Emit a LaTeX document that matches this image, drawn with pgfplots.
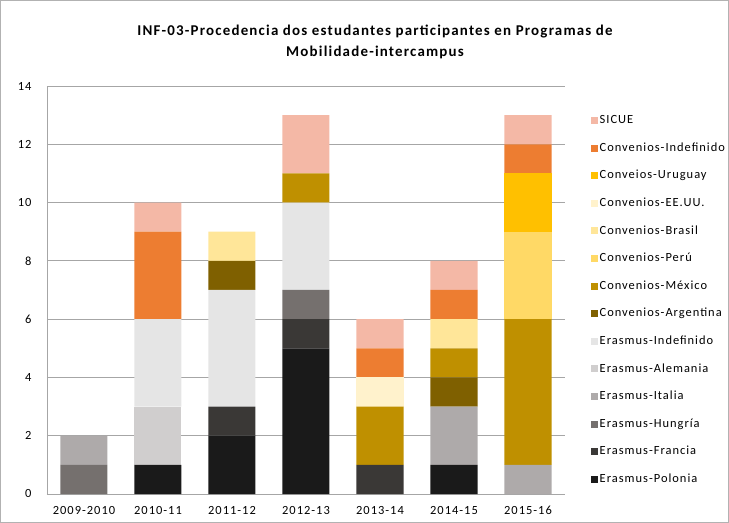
\documentclass[border=0pt]{standalone}
\usepackage{pgfplots}
\pgfplotsset{compat=1.18}
\usepackage{fontspec}
\setmainfont{Carlito}[LetterSpace=8]

\definecolor{cPol}{HTML}{1A1A1A}
\definecolor{cFra}{HTML}{3A3836}
\definecolor{cHun}{HTML}{75706E}
\definecolor{cIta}{HTML}{AEAAAA}
\definecolor{cAle}{HTML}{D0CECE}
\definecolor{cEin}{HTML}{E5E5E5}
\definecolor{cArg}{HTML}{7F6000}
\definecolor{cMex}{HTML}{BF9000}
\definecolor{cPer}{HTML}{FFD966}
\definecolor{cBra}{HTML}{FFE699}
\definecolor{cUsa}{HTML}{FFF2CC}
\definecolor{cUru}{HTML}{FFC000}
\definecolor{cCin}{HTML}{ED7D31}
\definecolor{cSic}{HTML}{F4B8A6}

\begin{document}
\begin{tikzpicture}
\begin{axis}[
    at={(0,0)}, anchor=south west,
    scale only axis, width=518bp, height=408bp,
    ybar stacked, bar width=47bp,
    xmin=-0.5, xmax=6.5, ymin=0, ymax=14,
    xtick={0,...,6},
    xticklabels={2009-2010,2010-11,2011-12,2012-13,2013-14,2014-15,2015-16},
    ytick={0,2,...,14},
    axis x line*=bottom, axis y line*=left,
    axis line style={gray!70, line width=0.8pt},
    ymajorgrids, grid style={gray!70, line width=0.8pt},
    major tick length=0pt,
    tick label style={font=\fontsize{12.5}{14}\selectfont},
    xticklabel style={yshift=-9bp},
    yticklabel style={xshift=-12bp},
    /pgf/number format/assume math mode=true,
    every axis plot/.append style={draw=none},
    legend image code/.code={\fill[#1] (0bp,-3.5bp) rectangle (7bp,3.5bp);},
    legend style={at={(1,1)}, anchor=north west, xshift=26bp, yshift=-27bp,
        draw=none, fill=none, font=\fontsize{12.5}{14}\selectfont,
        row sep=13.1bp, inner sep=0pt,
        nodes={inner sep=1.5bp, text height=9bp, text depth=2.5bp}},
    legend cell align=left,
    reverse legend,
]
\addplot[fill=cPol] coordinates {(0,0) (1,1) (2,2) (3,5) (4,0) (5,1) (6,0)};
\addlegendentry{Erasmus-Polonia}
\addplot[fill=cFra] coordinates {(0,0) (1,0) (2,1) (3,1) (4,1) (5,0) (6,0)};
\addlegendentry{Erasmus-Francia}
\addplot[fill=cHun] coordinates {(0,1) (1,0) (2,0) (3,1) (4,0) (5,0) (6,0)};
\addlegendentry{Erasmus-Hungría}
\addplot[fill=cIta] coordinates {(0,1) (1,0) (2,0) (3,0) (4,0) (5,2) (6,1)};
\addlegendentry{Erasmus-Italia}
\addplot[fill=cAle] coordinates {(0,0) (1,2) (2,0) (3,0) (4,0) (5,0) (6,0)};
\addlegendentry{Erasmus-Alemania}
\addplot[fill=cEin] coordinates {(0,0) (1,3) (2,4) (3,3) (4,0) (5,0) (6,0)};
\addlegendentry{Erasmus-Indefinido}
\addplot[fill=cArg] coordinates {(0,0) (1,0) (2,1) (3,0) (4,0) (5,1) (6,0)};
\addlegendentry{Convenios-Argentina}
\addplot[fill=cMex] coordinates {(0,0) (1,0) (2,0) (3,1) (4,2) (5,1) (6,5)};
\addlegendentry{Convenios-México}
\addplot[fill=cPer] coordinates {(0,0) (1,0) (2,0) (3,0) (4,0) (5,0) (6,3)};
\addlegendentry{Convenios-Perú}
\addplot[fill=cBra] coordinates {(0,0) (1,0) (2,1) (3,0) (4,0) (5,1) (6,0)};
\addlegendentry{Convenios-Brasil}
\addplot[fill=cUsa] coordinates {(0,0) (1,0) (2,0) (3,0) (4,1) (5,0) (6,0)};
\addlegendentry{Convenios-EE.UU.}
\addplot[fill=cUru] coordinates {(0,0) (1,0) (2,0) (3,0) (4,0) (5,0) (6,2)};
\addlegendentry{Conveios-Uruguay}
\addplot[fill=cCin] coordinates {(0,0) (1,3) (2,0) (3,0) (4,1) (5,1) (6,1)};
\addlegendentry{Convenios-Indefinido}
\addplot[fill=cSic] coordinates {(0,0) (1,1) (2,0) (3,2) (4,1) (5,1) (6,1)};
\addlegendentry{SICUE}
\end{axis}
\node[align=center, font=\bfseries\fontsize{15}{21}\selectfont] at (328bp,452bp)
    {INF-03-Procedencia dos estudantes participantes en Programas de\\Mobilidade-intercampus};
\draw[gray!60, line width=1bp] (-46.5bp,-28.5bp) rectangle (681.5bp,493.5bp);
\end{tikzpicture}
\end{document}
